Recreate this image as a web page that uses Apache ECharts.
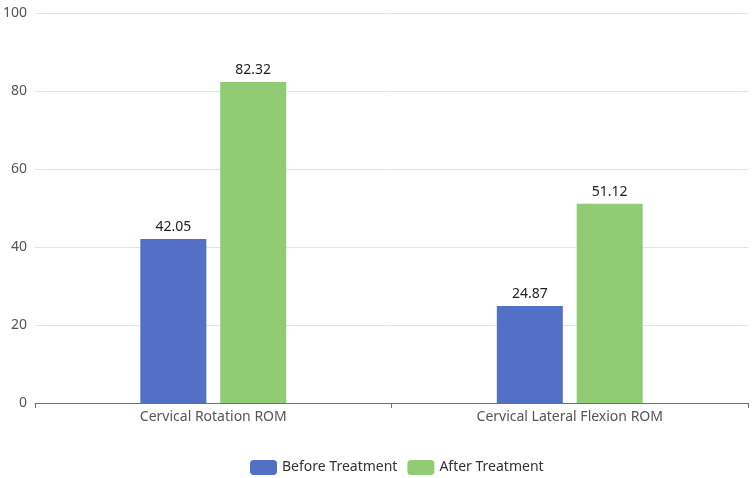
<!DOCTYPE html>
<html>
<head>
<meta charset="utf-8">
<script src="https://cdn.jsdelivr.net/npm/echarts@6/dist/echarts.min.js"></script>
<style>html,body{margin:0;padding:0;background:#fff}#c{width:753px;height:478px}</style>
</head>
<body>
<div id="c"></div>
<script>
const categories = ['Cervical Rotation ROM', 'Cervical Lateral Flexion ROM'];
const seriesNames = ['Before Treatment', 'After Treatment'];
const beforeValues = [42.05, 24.87];
const afterValues = [82.32, 51.12];

const chart = echarts.init(document.getElementById('c'));
const labelCfg = { show: true, position: 'top', color: '#222', fontSize: 14, fontFamily: 'Noto Sans, sans-serif' };
chart.setOption({
  animation: false,
  textStyle: { fontFamily: 'Noto Sans, sans-serif' },
  color: ['#5470c6', '#91cc75'],
  grid: { left: 35, right: 5, top: 13, bottom: 75, containLabel: false },
  legend: {
    data: seriesNames,
    top: 455,
    left: 245,
    itemWidth: 27,
    itemHeight: 15,
    itemGap: 10,
    textStyle: { fontSize: 14, color: '#333' }
  },
  xAxis: {
    type: 'category',
    data: categories,
    axisTick: { show: true },
    axisLine: { lineStyle: { color: '#6e7079' } },
    axisLabel: { fontSize: 14, color: '#555', margin: 7 }
  },
  yAxis: {
    type: 'value',
    min: 0, max: 100, interval: 20,
    axisLabel: { fontSize: 14, color: '#555' },
    splitLine: { lineStyle: { color: '#e0e6f1' } }
  },
  series: [
    { name: seriesNames[0], type: 'bar', data: beforeValues, barWidth: 66, barGap: '21%', label: labelCfg },
    { name: seriesNames[1], type: 'bar', data: afterValues, barWidth: 66, barGap: '21%', label: labelCfg }
  ]
});
</script>
</body>
</html>
